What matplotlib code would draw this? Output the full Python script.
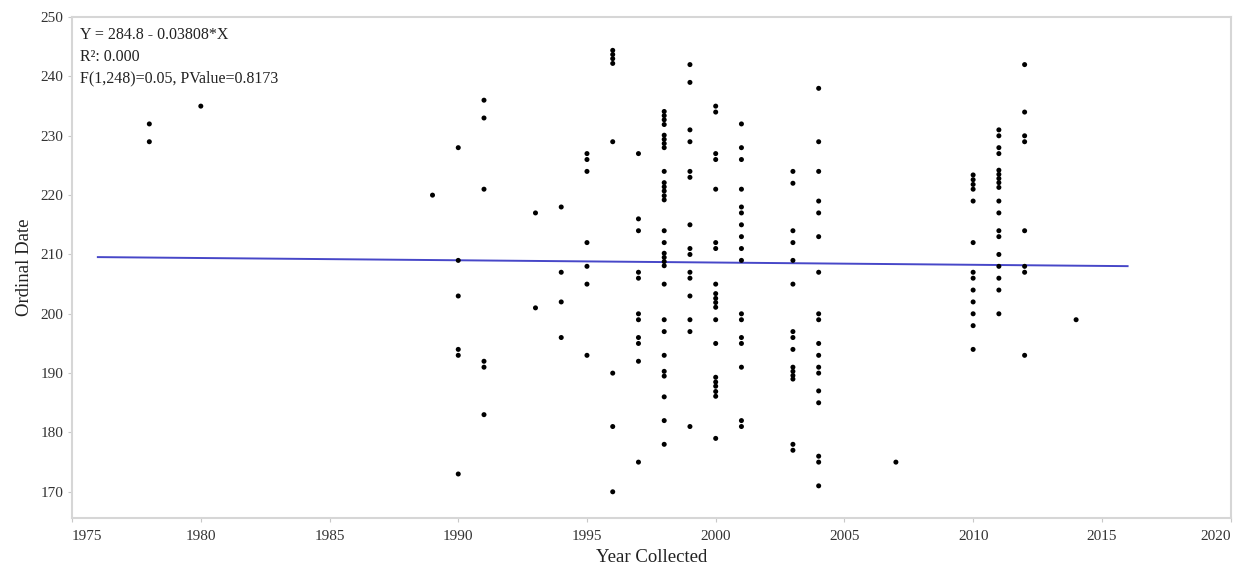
import matplotlib
matplotlib.use("Agg")
import matplotlib.pyplot as plt

# ---- data ----
years = {
    1978: [232, 229],
    1980: [235],
    1989: [220],
    1990: [228, 209, 203, 194, 193, 173],
    1991: [236, 233, 221, 192, 191, 183],
    1993: [217, 201],
    1994: [218, 207, 202, 196],
    1995: [227, 226, 224, 212, 208, 205, 193],
    1996: [244.4, 243.7, 243.0, 242.2, 229, 190, 181, 170],
    1997: [227, 216, 214, 207, 206, 200, 199, 196, 195, 192, 175],
    1998: [234.1, 233.4, 232.7, 231.9, 230.1, 229.4, 228.7, 228.0, 224,
           222.1, 221.4, 220.7, 219.9, 219.2, 214, 212, 210.2, 209.5, 208.8,
           208.1, 205, 199, 197, 193, 190.3, 189.5, 186, 182, 178],
    1999: [242, 239, 231, 229, 224, 223, 215, 211, 210, 207, 206, 203, 199,
           197, 181],
    2000: [235, 234, 227, 226, 221, 212, 211, 205, 203.4, 202.6, 201.9,
           201.1, 199, 195, 189.3, 188.5, 187.8, 186.9, 186.1, 179],
    2001: [232, 228, 226, 221, 218, 217, 215, 213, 211, 209, 200, 199, 196,
           195, 191, 182, 181],
    2003: [224, 222, 214, 212, 209, 205, 197, 196, 194, 191, 190.3, 189.6,
           189, 178, 177],
    2004: [238, 229, 224, 219, 217, 213, 207, 200, 199, 195, 193, 191, 190,
           187, 185, 176, 175, 171],
    2007: [175],
    2010: [223.4, 222.6, 221.8, 221.0, 219, 212, 207, 206, 204, 202, 200,
           198, 194],
    2011: [231, 230, 228, 227, 224.2, 223.5, 222.8, 222.1, 221.3, 219, 217,
           214, 213, 210, 208, 206, 204, 200],
    2012: [242, 234, 230, 229, 214, 208, 207, 193],
    2014: [199],
}

intercept = 284.8
slope = -0.03808
fit_x = [1976, 2016]

eq_text = "Y = 284.8 - 0.03808*X"
r2_text = "R\u00b2: 0.000"
f_text = "F(1,248)=0.05, PValue=0.8173"

xticks = [1975, 1980, 1985, 1990, 1995, 2000, 2005, 2010, 2015, 2020]
yticks = [170, 180, 190, 200, 210, 220, 230, 240, 250]

# ---- plot ----
plt.rcParams["font.family"] = ["Liberation Serif", "DejaVu Serif"]

fig = plt.figure(figsize=(12.43, 5.71), dpi=100)
ax = fig.add_axes([0.058, 0.093, 0.932, 0.877])

xs, ys = [], []
for yr, vals in years.items():
    xs.extend([yr] * len(vals))
    ys.extend(vals)

fit_y = [intercept + slope * x for x in fit_x]
ax.plot(fit_x, fit_y, color="#4747c8", lw=1.4, zorder=2)
ax.scatter(xs, ys, s=13, color="black", edgecolors="none", zorder=3)

ax.set_xlim(1975, 2020)
ax.set_ylim(165.6, 250)
ax.set_xticks(xticks)
ax.set_yticks(yticks)
ax.tick_params(axis="both", labelsize=11, colors="#333333", length=3,
               width=0.8, color="#c8c8c8")
ax.tick_params(axis="x", pad=6)
xl = ax.get_xticklabels()
xl[0].set_horizontalalignment("left")
xl[-1].set_horizontalalignment("right")
for s in ax.spines.values():
    s.set_color("#d6d6d6")
    s.set_linewidth(1.5)

ax.set_xlabel("Year Collected", fontsize=13.5, color="#222222", labelpad=4)
ax.set_ylabel("Ordinal Date", fontsize=13.5, color="#222222", labelpad=5)

tx = 0.007
ax.text(tx, 0.965, eq_text, transform=ax.transAxes, fontsize=11.5,
        va="center", ha="left", color="#222222")
ax.text(tx, 0.921, r2_text, transform=ax.transAxes, fontsize=11.5,
        va="center", ha="left", color="#222222")
ax.text(tx, 0.877, f_text, transform=ax.transAxes, fontsize=11.5,
        va="center", ha="left", color="#222222")

fig.savefig("out.png", dpi=100, facecolor="white")
